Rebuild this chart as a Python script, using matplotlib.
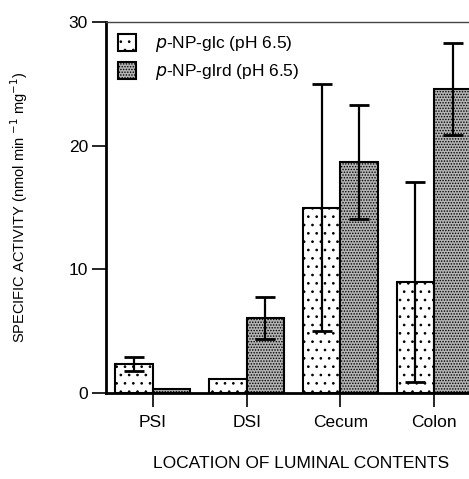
import matplotlib.pyplot as plt
import numpy as np

plt.rcParams['font.family'] = ['Liberation Sans', 'DejaVu Sans']
plt.rcParams['hatch.linewidth'] = 0.7

# data
sites = ["PSI", "DSI", "Cecum", "Colon"]
glc = [2.35, 1.15, 15.0, 9.0]
glc_err = [0.6, 0.0, 10.0, 8.1]
glrd = [0.35, 6.1, 18.7, 24.6]
glrd_err = [0.0, 1.7, 4.6, 3.7]

fig = plt.figure(figsize=(4.69, 4.79), dpi=100)
ax = fig.add_axes([106/469, 1-393/479, 375/469, (393-22)/479])

x = np.arange(len(sites))
w = 0.4
ax.bar(x - w/2, glc, w, facecolor='white', edgecolor='black', linewidth=1.5,
       hatch='..', label='$p$-NP-glc (pH 6.5)', zorder=2)
ax.bar(x + w/2, glrd, w, facecolor='#b4b4b4', edgecolor='black', linewidth=1.5,
       hatch='......', label='$p$-NP-glrd (pH 6.5)', zorder=2)

for xs, v, e in [(x - w/2, glc, glc_err), (x + w/2, glrd, glrd_err)]:
    for xi, vi, ei in zip(xs, v, e):
        if ei > 0:
            ax.errorbar(xi, vi, yerr=ei, fmt='none', ecolor='black',
                        elinewidth=1.6, capsize=7, capthick=2, zorder=3)

ax.set_xlim(-0.5, 3.5)
ax.set_ylim(0, 30)
ax.set_yticks([0, 10, 20, 30])
ax.set_xticks(x)
ax.set_xticklabels(sites)
ax.tick_params(axis='both', direction='out', length=10, width=1.2, labelsize=12.5)
ax.tick_params(axis='y', pad=3)
ax.tick_params(axis='x', pad=6)

ax.spines['left'].set_linewidth(2)
ax.spines['bottom'].set_linewidth(2)
ax.spines['top'].set_linewidth(1)
ax.spines['top'].set_color('#444444')
ax.spines['right'].set_visible(False)

ax.set_ylabel('SPECIFIC ACTIVITY (nmol min $^{-1}$ mg$^{-1}$)', fontsize=10.5, labelpad=28)
ax.set_xlabel('LOCATION OF LUMINAL CONTENTS', fontsize=12.5)
ax.xaxis.set_label_coords((301-106)/375, -(456-393)/371)

leg = ax.legend(loc='upper left', frameon=False, fontsize=12.5, handlelength=1.0,
                handleheight=1.1, handletextpad=1.1, borderaxespad=0.4,
                borderpad=0.3, labelspacing=0.45)

fig.savefig('out.png', dpi=100)
